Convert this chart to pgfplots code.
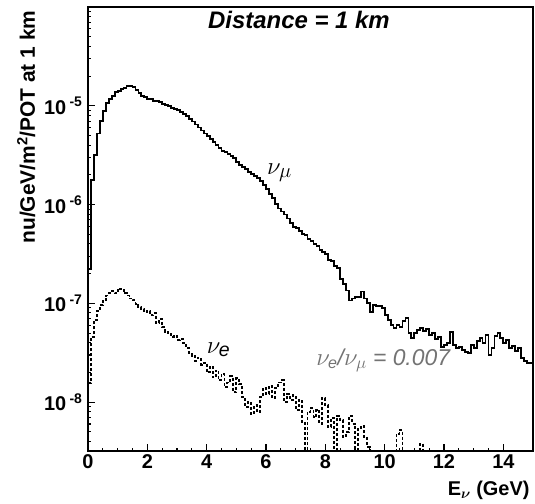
\documentclass[border=0pt]{standalone}
\usepackage{amsmath}
\usepackage{fontspec}
\setmainfont{Liberation Sans}
\usepackage{pgfplots}
\usepackage{pgfplotstable}
\pgfplotsset{compat=1.18}

% nu_mu flux, 0.1 GeV bins (left edge, value)
\pgfplotstableread{
E     flux
0.0   2.24e-7
0.1   1.78e-6
0.2   3.16e-6
0.3   5.25e-6
0.4   7.08e-6
0.5   8.91e-6
0.6   1.07e-5
0.7   1.17e-5
0.8   1.26e-5
0.9   1.38e-5
1.0   1.41e-5
1.1   1.48e-5
1.2   1.51e-5
1.3   1.58e-5
1.4   1.58e-5
1.5   1.55e-5
1.6   1.45e-5
1.7   1.35e-5
1.8   1.26e-5
1.9   1.23e-5
2.0   1.17e-5
2.1   1.17e-5
2.2   1.12e-5
2.3   1.12e-5
2.4   1.10e-5
2.5   1.05e-5
2.6   1.02e-5
2.7   1.00e-5
2.8   9.55e-6
2.9   9.33e-6
3.0   9.12e-6
3.1   8.71e-6
3.2   8.32e-6
3.3   7.94e-6
3.4   7.41e-6
3.5   6.92e-6
3.6   6.46e-6
3.7   6.03e-6
3.8   5.62e-6
3.9   5.25e-6
4.0   4.90e-6
4.1   4.57e-6
4.2   4.27e-6
4.3   3.98e-6
4.4   3.72e-6
4.5   3.47e-6
4.6   3.39e-6
4.7   3.24e-6
4.8   3.09e-6
4.9   2.95e-6
5.0   2.69e-6
5.1   2.51e-6
5.2   2.40e-6
5.3   2.29e-6
5.4   2.14e-6
5.5   2.04e-6
5.6   1.95e-6
5.7   1.86e-6
5.8   1.74e-6
5.9   1.58e-6
6.0   1.45e-6
6.1   1.29e-6
6.2   1.17e-6
6.3   1.02e-6
6.4   9.12e-7
6.5   8.51e-7
6.6   7.94e-7
6.7   7.24e-7
6.8   6.46e-7
6.9   5.89e-7
7.0   5.75e-7
7.1   5.37e-7
7.2   5.01e-7
7.3   4.90e-7
7.4   4.47e-7
7.5   4.27e-7
7.6   3.98e-7
7.7   3.80e-7
7.8   3.47e-7
7.9   3.31e-7
8.0   3.16e-7
8.1   2.75e-7
8.2   2.69e-7
8.3   2.40e-7
8.4   2.29e-7
8.5   1.78e-7
8.6   1.58e-7
8.7   1.35e-7
8.8   1.07e-7
8.9   1.12e-7
9.0   1.17e-7
9.1   1.15e-7
9.2   1.32e-7
9.3   1.12e-7
9.4   1.00e-7
9.5   8.13e-8
9.6   9.55e-8
9.7   9.33e-8
9.8   9.33e-8
9.9   8.91e-8
10.0  7.59e-8
10.1  6.76e-8
10.2  6.03e-8
10.3  5.62e-8
10.4  6.03e-8
10.5  5.75e-8
10.6  6.61e-8
10.7  7.08e-8
10.8  5.01e-8
10.9  4.47e-8
11.0  5.01e-8
11.1  5.37e-8
11.2  5.62e-8
11.3  5.25e-8
11.4  5.50e-8
11.5  4.79e-8
11.6  5.01e-8
11.7  4.37e-8
11.8  4.57e-8
11.9  3.63e-8
12.0  3.80e-8
12.1  3.98e-8
12.2  5.13e-8
12.3  3.80e-8
12.4  3.55e-8
12.5  3.63e-8
12.6  3.39e-8
12.7  3.24e-8
12.8  3.16e-8
12.9  3.80e-8
13.0  3.55e-8
13.1  4.17e-8
13.2  4.47e-8
13.3  3.98e-8
13.4  4.79e-8
13.5  3.02e-8
13.6  3.55e-8
13.7  4.68e-8
13.8  5.01e-8
13.9  4.47e-8
14.0  3.98e-8
14.1  4.27e-8
14.2  3.55e-8
14.3  3.72e-8
14.4  3.31e-8
14.5  3.55e-8
14.6  2.82e-8
14.7  2.63e-8
14.8  2.51e-8
14.9  2.51e-8
15.0  2.51e-8
}\numu

% nu_e flux, same bins; empty bins set below the axis
\pgfplotstableread{
E     flux
0.0   1.55e-8
0.1   4.57e-8
0.2   6.76e-8
0.3   8.32e-8
0.4   9.55e-8
0.5   1.05e-7
0.6   1.20e-7
0.7   1.26e-7
0.8   1.32e-7
0.9   1.26e-7
1.0   1.41e-7
1.1   1.38e-7
1.2   1.26e-7
1.3   1.20e-7
1.4   1.12e-7
1.5   1.07e-7
1.6   9.77e-8
1.7   9.12e-8
1.8   8.71e-8
1.9   8.13e-8
2.0   8.32e-8
2.1   7.59e-8
2.2   7.94e-8
2.3   6.31e-8
2.4   6.92e-8
2.5   5.75e-8
2.6   5.13e-8
2.7   5.01e-8
2.8   4.57e-8
2.9   4.68e-8
3.0   4.27e-8
3.1   4.37e-8
3.2   3.98e-8
3.3   3.55e-8
3.4   3.16e-8
3.5   2.95e-8
3.6   2.63e-8
3.7   2.82e-8
3.8   2.40e-8
3.9   2.51e-8
4.0   2.00e-8
4.1   2.29e-8
4.2   1.78e-8
4.3   2.09e-8
4.4   1.66e-8
4.5   1.91e-8
4.6   1.41e-8
4.7   1.58e-8
4.8   1.82e-8
4.9   1.26e-8
5.0   1.74e-8
5.1   1.51e-8
5.2   1.12e-8
5.3   8.91e-9
5.4   1.00e-8
5.5   7.59e-9
5.6   9.33e-9
5.7   7.94e-9
5.8   1.12e-8
5.9   1.38e-8
6.0   1.20e-8
6.1   1.45e-8
6.2   1.10e-8
6.3   1.38e-8
6.4   1.58e-8
6.5   1.66e-8
6.6   1.00e-8
6.7   1.20e-8
6.8   1.05e-8
6.9   1.17e-8
7.0   8.32e-9
7.1   1.05e-8
7.2   6.31e-9
7.3   1e-10
7.4   7.94e-9
7.5   8.71e-9
7.6   7.08e-9
7.7   8.32e-9
7.8   6.03e-9
7.9   1.10e-8
8.0   9.33e-9
8.1   5.62e-9
8.2   6.92e-9
8.3   1e-10
8.4   7.24e-9
8.5   6.61e-9
8.6   4.47e-9
8.7   5.01e-9
8.8   7.24e-9
8.9   6.03e-9
9.0   1e-10
9.1   5.50e-9
9.2   5.75e-9
9.3   4.47e-9
9.4   3.55e-9
9.5   1e-10
10.4  4.79e-9
10.5  5.25e-9
10.6  1e-10
11.2  3.80e-9
11.3  1e-10
15.0  1e-10
}\nue

\begin{document}
\begin{tikzpicture}
\begin{axis}[
    at={(0,0)}, anchor=south west,
    scale only axis,
    width=445bp, height=444bp,
    xmin=0, xmax=15,
    ymode=log,
    ymin=3.2e-9, ymax=1e-4,
    axis line style={line width=1.6bp},
    xtick={0,2,...,14},
    minor x tick num=3,
    ytick={1e-8,1e-7,1e-6,1e-5},
    yticklabels={%
      \textbf{10}\,\textsuperscript{\textbf{-8}},
      \textbf{10}\,\textsuperscript{\textbf{-7}},
      \textbf{10}\,\textsuperscript{\textbf{-6}},
      \textbf{10}\,\textsuperscript{\textbf{-5}}},
    minor ytick={4e-9,5e-9,6e-9,7e-9,8e-9,9e-9,
      2e-8,3e-8,4e-8,5e-8,6e-8,7e-8,8e-8,9e-8,
      2e-7,3e-7,4e-7,5e-7,6e-7,7e-7,8e-7,9e-7,
      2e-6,3e-6,4e-6,5e-6,6e-6,7e-6,8e-6,9e-6,
      2e-5,3e-5,4e-5,5e-5,6e-5,7e-5,8e-5,9e-5},
    xtick pos=bottom, ytick pos=left,
    tick align=inside,
    major tick length=7bp, minor tick length=3.5bp,
    every tick/.style={black, line width=1.1bp},
    /pgf/number format/assume math mode=true,
    xticklabel style={font=\fontsize{20}{20}\selectfont\bfseries},
    yticklabel style={font=\fontsize{20}{20}\selectfont, xshift=-2bp},
    ylabel={nu/GeV/m\textsuperscript{2}/POT at 1 km},
    ylabel style={at={(axis description cs:-0.139,1.0)}, anchor=east,
      font=\fontsize{21}{21}\selectfont\bfseries},
    xlabel={E\textsubscript{$\boldsymbol{\nu}$} (GeV)},
    xlabel style={at={(axis description cs:1.0,-0.088)}, anchor=east,
      font=\fontsize{20}{20}\selectfont\bfseries},
    clip=true,
]
\addplot[const plot, black, line width=1.8bp] table[x=E, y=flux] {\numu};
\addplot[const plot, black, line width=1.9bp, dash pattern=on 3bp off 2bp]
  table[x=E, y=flux] {\nue};

\node[font=\fontsize{24}{24}\selectfont\bfseries\itshape]
  at (axis description cs:0.474,0.971) {Distance = 1 km};
\node[font=\fontsize{28}{28}\selectfont] at (axis cs:6.45,2.1e-6) {$\nu_\mu$};
\node[font=\fontsize{28}{28}\selectfont] at (axis cs:4.4,3.4e-8) {$\nu_{\textit{e}}$};
\node[font=\fontsize{23}{23}\selectfont\itshape, text=black!55]
  at (axis cs:9.95,2.65e-8) {$\nu_{\textit{e}}$/$\nu_\mu$ = 0.007};
\end{axis}
\pgfresetboundingbox
\path[use as bounding box] (-88bp,-53bp) rectangle (447bp,451bp);
\end{tikzpicture}
\end{document}
